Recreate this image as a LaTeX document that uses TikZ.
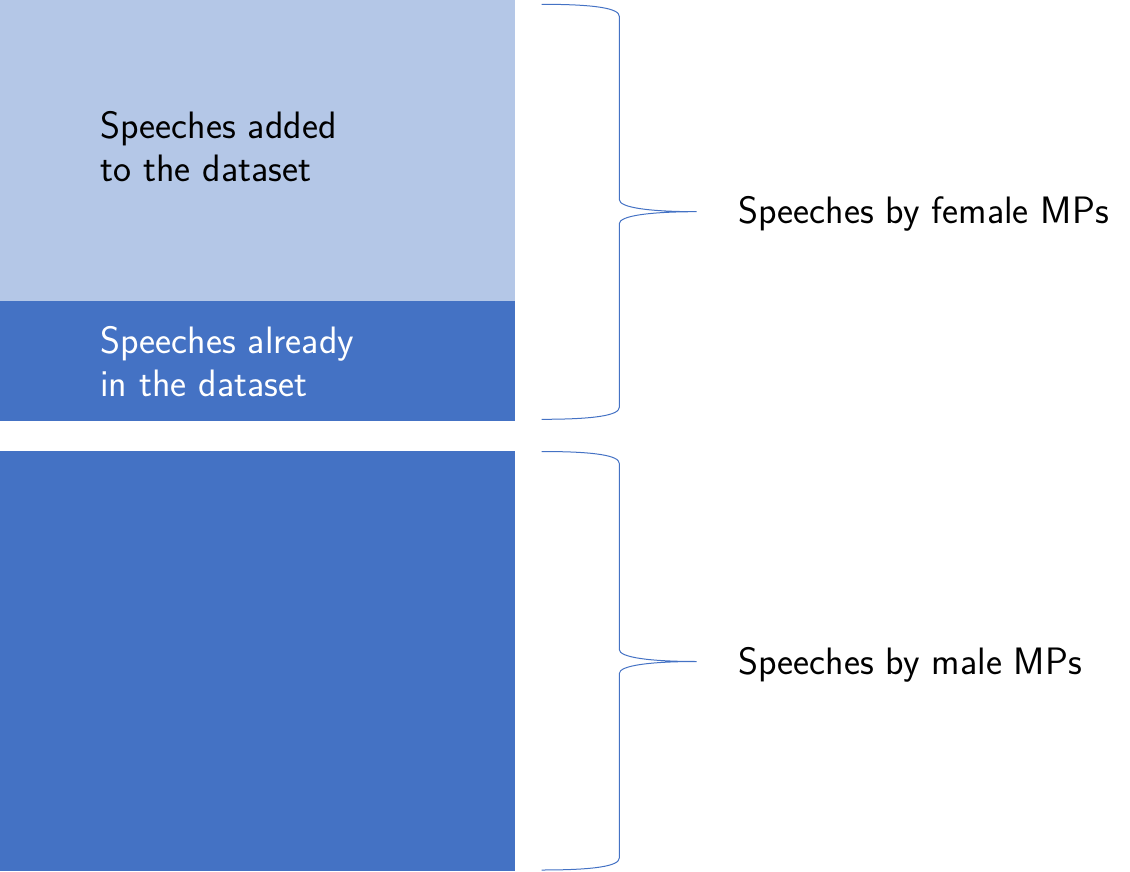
\documentclass[tikz,border=0pt]{standalone}
\usepackage{xcolor}
\usepackage{tikz}
\definecolor{lightblue}{HTML}{B4C7E7}
\definecolor{darkblue}{HTML}{4472C4}
\tikzset{
  label text/.style={font=\sffamily\fontsize{19.1}{21.5}\selectfont, inner sep=0pt},
  brace line/.style={darkblue, line width=0.5pt}
}
% Office-like right brace: top y, bottom y, tip y
\newcommand{\groupbrace}[3]{%
  \draw[brace line] (541.7,#1) .. controls (595,#1) and (619.3,{#1+4}) .. (619.3,{#1+12})
    -- (619.3,{#3-12}) .. controls (619.3,{#3-4}) and (650,#3) .. (696.7,#3)
    .. controls (650,#3) and (619.3,{#3+4}) .. (619.3,{#3+12})
    -- (619.3,{#2-12}) .. controls (619.3,{#2-4}) and (595,#2) .. (541.7,#2);
}

\begin{document}
\begin{tikzpicture}[x=0.5pt, y=-0.5pt]
    \useasboundingbox (0,0) rectangle (1130,872);

    % Female MPs block
    \fill[lightblue] (0,0) rectangle (515,301);
    \fill[darkblue] (0,301) rectangle (515,421);
    \node[label text, anchor=base west, align=left] (added) at (100,182) {Speeches added\\to the dataset};
    \node[label text, anchor=base west, align=left, white] (already) at (100,396) {Speeches already\\in the dataset};

    % Male MPs block
    \fill[darkblue] (0,451) rectangle (515,871);

    % Braces and group labels
    \groupbrace{4.3}{419.3}{211.7}
    \groupbrace{451.5}{870}{661.5}
    \node[label text, anchor=base west] (female) at (738,223) {Speeches by female MPs};
    \node[label text, anchor=base west] (male) at (738,674) {Speeches by male MPs};
\end{tikzpicture}
\end{document}
